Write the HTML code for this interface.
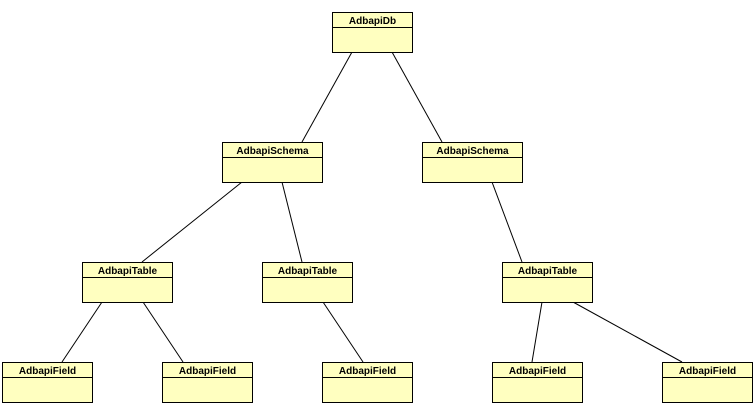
<!DOCTYPE html>
<html><head><meta charset="utf-8"><style>
html,body{margin:0;padding:0;background:#fff;}
svg{display:block;}
text{font-family:"Liberation Sans",Arial,sans-serif;font-weight:bold;font-size:10px;fill:#000;}
</style></head><body>
<svg width="756" height="416" viewBox="0 0 756 416" xmlns="http://www.w3.org/2000/svg">
<g stroke="#000" stroke-width="1" fill="none">
<line x1="352" y1="52" x2="302" y2="142"/>
<line x1="392" y1="52" x2="442" y2="142"/>
<line x1="242" y1="182" x2="142" y2="262"/>
<line x1="282" y1="182" x2="302" y2="262"/>
<line x1="492" y1="182" x2="522" y2="262"/>
<line x1="102" y1="302" x2="62" y2="362"/>
<line x1="143" y1="302" x2="183" y2="362"/>
<line x1="323" y1="302" x2="363" y2="362"/>
<line x1="542" y1="302" x2="532" y2="362"/>
<line x1="573" y1="302" x2="682" y2="362"/>
</g>
<g fill="#ffffc0" stroke="#000" stroke-width="1">
<rect x="332.5" y="12.5" width="80" height="40"/><line x1="332" y1="27.5" x2="413" y2="27.5"/>
<rect x="222.5" y="142.5" width="100" height="40"/><line x1="222" y1="157.5" x2="323" y2="157.5"/>
<rect x="422.5" y="142.5" width="100" height="40"/><line x1="422" y1="157.5" x2="523" y2="157.5"/>
<rect x="82.5" y="262.5" width="90" height="40"/><line x1="82" y1="277.5" x2="173" y2="277.5"/>
<rect x="262.5" y="262.5" width="90" height="40"/><line x1="262" y1="277.5" x2="353" y2="277.5"/>
<rect x="502.5" y="262.5" width="90" height="40"/><line x1="502" y1="277.5" x2="593" y2="277.5"/>
<rect x="2.5" y="362.5" width="90" height="40"/><line x1="2" y1="377.5" x2="93" y2="377.5"/>
<rect x="162.5" y="362.5" width="90" height="40"/><line x1="162" y1="377.5" x2="253" y2="377.5"/>
<rect x="322.5" y="362.5" width="90" height="40"/><line x1="322" y1="377.5" x2="413" y2="377.5"/>
<rect x="492.5" y="362.5" width="90" height="40"/><line x1="492" y1="377.5" x2="583" y2="377.5"/>
<rect x="662.5" y="362.5" width="90" height="40"/><line x1="662" y1="377.5" x2="753" y2="377.5"/>
</g>
<g text-anchor="middle">
<text x="372.5" y="24">AdbapiDb</text>
<text x="272.5" y="154">AdbapiSchema</text>
<text x="472.5" y="154">AdbapiSchema</text>
<text x="127.5" y="274">AdbapiTable</text>
<text x="307.5" y="274">AdbapiTable</text>
<text x="547.5" y="274">AdbapiTable</text>
<text x="47.5" y="374">AdbapiField</text>
<text x="207.5" y="374">AdbapiField</text>
<text x="367.5" y="374">AdbapiField</text>
<text x="537.5" y="374">AdbapiField</text>
<text x="707.5" y="374">AdbapiField</text>
</g>
</svg>
</body></html>
